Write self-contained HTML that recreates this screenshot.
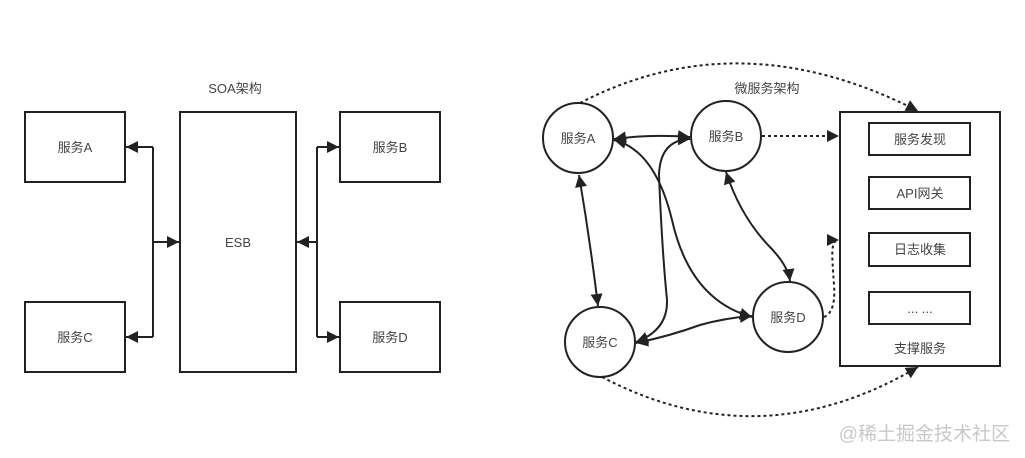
<!DOCTYPE html>
<html><head><meta charset="utf-8"><style>
html,body{margin:0;padding:0;background:#fff;}
svg{display:block;}
text{font-family:"Liberation Sans","Noto Sans CJK SC",sans-serif;font-size:13px;fill:#444;}
</style></head><body>
<svg width="1025" height="458" viewBox="0 0 1025 458" xmlns="http://www.w3.org/2000/svg">
<defs>
<marker id="arb" viewBox="0 0 10 10" refX="10" refY="5" markerWidth="13" markerHeight="12" markerUnits="userSpaceOnUse" orient="auto-start-reverse">
<path d="M0,0 L10,5 L0,10 z" fill="#222"/></marker>
</defs>
<g fill="none" stroke="#222" stroke-width="2">
<rect x="25" y="112" width="100" height="70"/>
<rect x="25" y="302" width="100" height="70"/>
<rect x="180" y="112" width="116" height="260"/>
<rect x="340" y="112" width="100" height="70"/>
<rect x="340" y="302" width="100" height="70"/>
<path d="M153,147 V337" />
<path d="M153,147 H126" marker-end="url(#arb)"/>
<path d="M153,337 H126" marker-end="url(#arb)"/>
<path d="M153,242 H179" marker-end="url(#arb)"/>
<path d="M317,147 V337" />
<path d="M317,147 H339" marker-end="url(#arb)"/>
<path d="M317,337 H339" marker-end="url(#arb)"/>
<path d="M317,242 H297" marker-end="url(#arb)"/>
<circle cx="578" cy="138" r="35"/>
<circle cx="726" cy="136" r="35"/>
<circle cx="600" cy="342" r="35"/>
<circle cx="788" cy="317" r="35"/>
<rect x="840" y="112" width="160" height="254"/>
<rect x="869" y="123" width="101" height="32"/>
<rect x="869" y="177" width="101" height="32"/>
<rect x="869" y="233" width="101" height="33"/>
<rect x="869" y="292" width="101" height="32"/>
<path d="M614,139 Q650,134 690,137" marker-start="url(#arb)" marker-end="url(#arb)"/>
<path d="M579,175 Q590,240 598,306" marker-start="url(#arb)" marker-end="url(#arb)"/>
<path d="M726,172 Q740,215 768,245 Q788,265 790,281" marker-start="url(#arb)" marker-end="url(#arb)"/>
<path d="M614,140 Q655,150 672,220 Q690,300 752,317" marker-start="url(#arb)" marker-end="url(#arb)"/>
<path d="M690,139 Q660,140 659,175 Q662,250 667,300 Q668,330 636,342" marker-start="url(#arb)" marker-end="url(#arb)"/>
<path d="M636,343 Q670,336 700,325 Q725,318 752,316" marker-start="url(#arb)" marker-end="url(#arb)"/>
</g>
<g fill="none" stroke="#222" stroke-width="2" stroke-dasharray="3,3">
<path d="M580,103 Q740,20 918,111" marker-end="url(#arb)"/>
<path d="M602,377 Q760,460 918,367" marker-end="url(#arb)"/>
<path d="M762,136 H839" marker-end="url(#arb)"/>
<path d="M824,317 Q836,312 834,285 C832,255 830,240 839,240" marker-end="url(#arb)"/>
</g>
<text x="235" y="93" text-anchor="middle">SOA架构</text>
<text x="75" y="152" text-anchor="middle">服务A</text>
<text x="75" y="342" text-anchor="middle">服务C</text>
<text x="238" y="247" text-anchor="middle">ESB</text>
<text x="390" y="152" text-anchor="middle">服务B</text>
<text x="390" y="342" text-anchor="middle">服务D</text>
<text x="767" y="93" text-anchor="middle">微服务架构</text>
<text x="578" y="143" text-anchor="middle">服务A</text>
<text x="726" y="141" text-anchor="middle">服务B</text>
<text x="600" y="347" text-anchor="middle">服务C</text>
<text x="788" y="322" text-anchor="middle">服务D</text>
<text x="920" y="144" text-anchor="middle">服务发现</text>
<text x="920" y="198" text-anchor="middle">API网关</text>
<text x="920" y="254" text-anchor="middle">日志收集</text>
<text x="920" y="313" text-anchor="middle">... ...</text>
<text x="920" y="353" text-anchor="middle">支撑服务</text>
<text x="1010" y="440" text-anchor="end" style="font-size:19px;fill:#c8c8c8;">@稀土掘金技术社区</text>
</svg>
</body></html>
